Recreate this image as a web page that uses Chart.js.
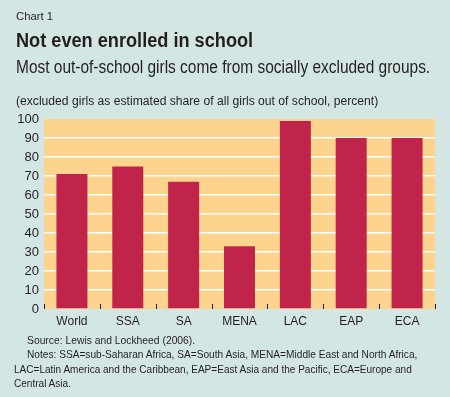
<!DOCTYPE html>
<html>
<head>
<meta charset="utf-8">
<script src="https://cdn.jsdelivr.net/npm/chart.js@4.4.1/dist/chart.umd.min.js"></script>
<style>
  body { margin: 0; background: #d3e6e4; font-family: "Liberation Sans", Arial, sans-serif; color: #231f20; }
  #wrap { position: relative; width: 450px; height: 397px; overflow: hidden; }
  #wrap canvas { position: absolute; left: 0; top: 0; }
  .txt { position: absolute; left: 16px; white-space: nowrap; transform-origin: 0 0; }
  #kicker { top: 10px; font-size: 11px; }
  #title { top: 29px; font-size: 20px; font-weight: bold; }
  #sub { top: 57px; font-size: 18px; }
  #unit { top: 94px; font-size: 12px; }
  .note { font-size: 11px; }
</style>
</head>
<body>
<div id="wrap">
  <canvas id="chart" width="450" height="397"></canvas>
  <div class="txt" id="kicker" data-w="37">Chart 1</div>
  <div class="txt" id="title" data-w="237">Not even enrolled in school</div>
  <div class="txt" id="sub" data-w="414">Most out-of-school girls come from socially excluded groups.</div>
  <div class="txt" id="unit" data-w="362">(excluded girls as estimated share of all girls out of school, percent)</div>
  <div class="txt note" style="top:334px;left:27px" data-w="168">Source: Lewis and Lockheed (2006).</div>
  <div class="txt note" style="top:348px;left:27px" data-w="390">Notes: SSA=sub-Saharan Africa, SA=South Asia, MENA=Middle East and North Africa,</div>
  <div class="txt note" style="top:363px;left:14px" data-w="398">LAC=Latin America and the Caribbean, EAP=East Asia and the Pacific, ECA=Europe and</div>
  <div class="txt note" style="top:377px;left:14px">Central Asia.</div>
</div>
<script>
const categories = ['World', 'SSA', 'SA', 'MENA', 'LAC', 'EAP', 'ECA'];
const shares = [71, 75, 67, 33, 99, 90, 90];
const yTicks = [0, 10, 20, 30, 40, 50, 60, 70, 80, 90, 100];

// the source typeface is condensed; squeeze the html lines to the measured widths
let squeeze = 1;
document.querySelectorAll('.txt[data-w]').forEach(el => {
    const k = Number(el.dataset.w) / el.offsetWidth;
    el.style.transform = 'scaleX(' + k + ')';
    if (el.classList.contains('note')) squeeze = k;
});
document.querySelectorAll('.txt.note:not([data-w])').forEach(el => {
    el.style.transform = 'scaleX(' + squeeze + ')';
});

const plotBg = {
    id: 'plotBg',
    beforeDraw(chart) {
        const a = chart.chartArea;
        const c = chart.ctx;
        c.save();
        c.fillStyle = '#fdd48e';
        c.fillRect(a.left, a.top, a.right - a.left, a.bottom - a.top);
        c.restore();
    }
};

// little dark marks between the categories, standing up from the bottom edge
const catMarks = {
    id: 'catMarks',
    afterDatasetsDraw(chart) {
        const a = chart.chartArea;
        const c = chart.ctx;
        const step = (a.right - a.left) / categories.length;
        c.save();
        c.strokeStyle = '#231f20';
        c.lineWidth = 1;
        for (let i = 0; i <= categories.length; i++) {
            const x = Math.round(a.left + i * step) + 0.5;
            c.beginPath();
            c.moveTo(x, a.bottom - 5);
            c.lineTo(x, a.bottom);
            c.stroke();
        }
        c.restore();
    }
};

const ctx = document.getElementById('chart').getContext('2d');
const font = '"Liberation Sans", Arial, sans-serif';

new Chart(ctx, {
    type: 'bar',
    data: {
        labels: categories,
        datasets: [{
            data: shares,
            backgroundColor: '#c0244a',
            categoryPercentage: 1,
            barPercentage: 0.555
        }]
    },
    options: {
        responsive: false,
        animation: false,
        layout: { padding: { top: 119, right: 15, bottom: 64, left: 0 } },
        plugins: { legend: { display: false }, tooltip: { enabled: false } },
        scales: {
            x: {
                grid: { display: false, drawTicks: false },
                border: { display: false },
                ticks: { color: '#231f20', font: { family: font, size: 12 }, padding: 5 },
                afterFit: s => { s.height = 24; }
            },
            y: {
                min: 0,
                max: 100,
                afterBuildTicks: s => { s.ticks = yTicks.map(v => ({ value: v })); },
                afterFit: s => { s.width = 44; },
                border: { display: false },
                grid: {
                    drawTicks: false,
                    lineWidth: 1.5,
                    color: c => (c.tick.value === 0 || c.tick.value === 100) ? 'rgba(0,0,0,0)' : '#ffffff'
                },
                ticks: { color: '#231f20', font: { family: font, size: 13 }, padding: 5, autoSkip: false }
            }
        }
    },
    plugins: [plotBg, catMarks]
});
</script>
</body>
</html>
